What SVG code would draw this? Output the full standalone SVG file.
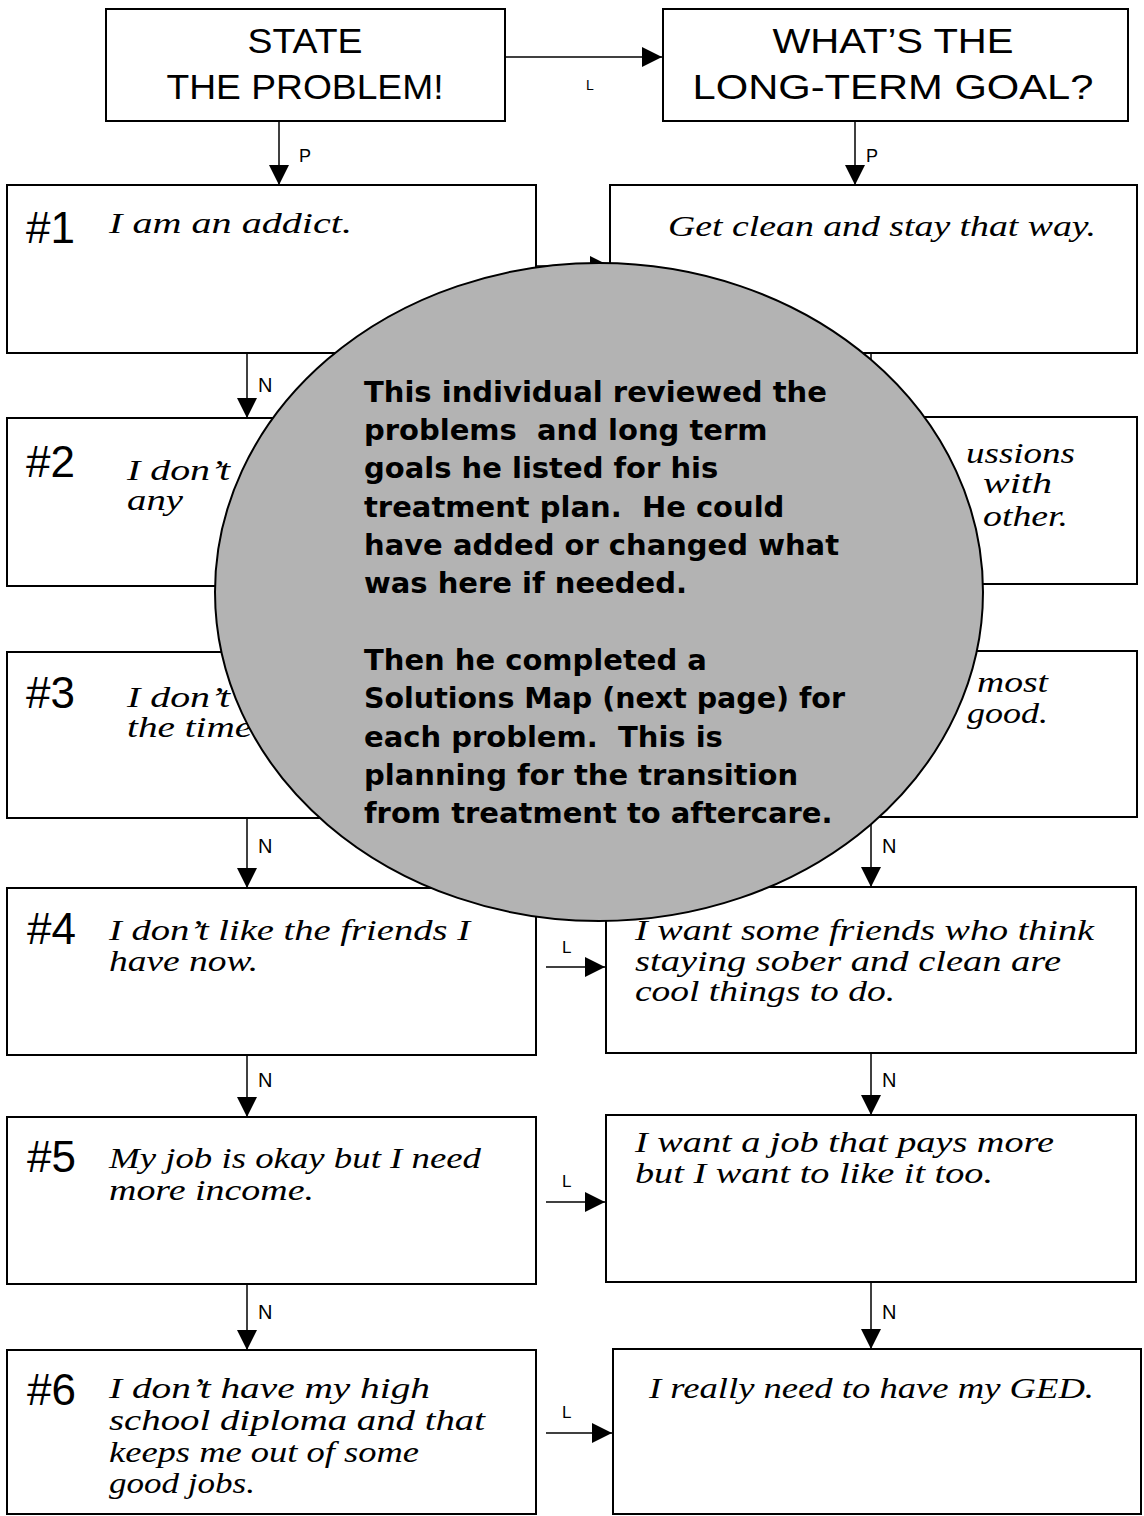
<svg xmlns="http://www.w3.org/2000/svg" width="1144" height="1516" viewBox="0 0 1144 1516">
<style>
.box{fill:#fff;stroke:#000;stroke-width:2}
.hdr{font-family:"Liberation Sans",Arial,sans-serif;font-size:35px;fill:#000;text-anchor:middle}
.num{font-family:"Liberation Sans",Arial,sans-serif;font-size:44px;fill:#000}
.hw{font-family:"Liberation Serif","Times New Roman",serif;font-style:italic;font-size:29px;fill:#000}
.lbl{font-family:"Liberation Sans",Arial,sans-serif;font-size:20px;fill:#000}
.lbp{font-family:"Liberation Sans",Arial,sans-serif;font-size:18px;fill:#000}
.lbm{font-family:"Liberation Sans",Arial,sans-serif;font-size:17px;fill:#000}
.lbs{font-family:"Liberation Sans",Arial,sans-serif;font-size:14px;fill:#000}
.con{fill:none;stroke:#000;stroke-width:1.5}
.note{fill:#b3b3b3;stroke:#000;stroke-width:2}
.nt{font-family:"DejaVu Sans",Verdana,sans-serif;font-weight:bold;font-size:29px;fill:#000}
</style>
<defs>
<marker id="ah" markerUnits="userSpaceOnUse" markerWidth="20" markerHeight="20" refX="20" refY="10" orient="auto">
<path d="M0,0 L20,10 L0,20 Z" fill="#000"/>
</marker>
</defs>
<rect width="1144" height="1516" fill="#fff"/>

<g id="hdr-problem">
<rect class="box" x="106" y="9" width="399" height="112"/>
<text class="hdr" x="305" y="53" textLength="115" lengthAdjust="spacingAndGlyphs">STATE</text>
<text class="hdr" x="305" y="99" textLength="277" lengthAdjust="spacingAndGlyphs">THE PROBLEM!</text>
</g>
<g id="hdr-goal">
<rect class="box" x="663" y="9" width="465" height="112"/>
<text class="hdr" x="893" y="53" textLength="241" lengthAdjust="spacingAndGlyphs">WHAT’S THE</text>
<text class="hdr" x="893" y="99" textLength="401" lengthAdjust="spacingAndGlyphs">LONG-TERM GOAL?</text>
</g>

<g id="p1">
<rect class="box" x="7" y="185" width="529" height="168"/>
<text class="num" x="26" y="243">#1</text>
<text class="hw" x="109" y="233" textLength="243" lengthAdjust="spacingAndGlyphs">I am an addict.</text>
</g>
<g id="g1">
<rect class="box" x="610" y="185" width="527" height="168"/>
<text class="hw" x="668" y="236" textLength="428" lengthAdjust="spacingAndGlyphs">Get clean and stay that way.</text>
</g>

<g id="p2">
<rect class="box" x="7" y="418" width="529" height="168"/>
<text class="num" x="26" y="477">#2</text>
<text class="hw" x="127" y="480" textLength="103" lengthAdjust="spacingAndGlyphs">I don’t</text>
<text class="hw" x="127" y="510" textLength="56" lengthAdjust="spacingAndGlyphs">any</text>
</g>
<g id="g2">
<rect class="box" x="610" y="417" width="527" height="167"/>
<text class="hw" x="966" y="463" textLength="109" lengthAdjust="spacingAndGlyphs">ussions</text>
<text class="hw" x="983" y="493" textLength="69" lengthAdjust="spacingAndGlyphs">with</text>
<text class="hw" x="983" y="526" textLength="85" lengthAdjust="spacingAndGlyphs">other.</text>
</g>

<g id="p3">
<rect class="box" x="7" y="652" width="529" height="166"/>
<text class="num" x="26" y="708">#3</text>
<text class="hw" x="127" y="707" textLength="103" lengthAdjust="spacingAndGlyphs">I don’t</text>
<text class="hw" x="127" y="737" textLength="135" lengthAdjust="spacingAndGlyphs">the time.</text>
</g>
<g id="g3">
<rect class="box" x="610" y="651" width="527" height="166"/>
<text class="hw" x="977" y="692" textLength="71" lengthAdjust="spacingAndGlyphs">most</text>
<text class="hw" x="967" y="723" textLength="81" lengthAdjust="spacingAndGlyphs">good.</text>
</g>

<g id="p4">
<rect class="box" x="7" y="888" width="529" height="167"/>
<text class="num" x="27" y="944">#4</text>
<text class="hw" x="109" y="940" textLength="361" lengthAdjust="spacingAndGlyphs">I don’t like the friends I</text>
<text class="hw" x="109" y="971" textLength="149" lengthAdjust="spacingAndGlyphs">have now.</text>
</g>
<g id="g4">
<rect class="box" x="606" y="887" width="530" height="166"/>
<text class="hw" x="635" y="940" textLength="459" lengthAdjust="spacingAndGlyphs">I want some friends who think</text>
<text class="hw" x="635" y="971" textLength="426" lengthAdjust="spacingAndGlyphs">staying sober and clean are</text>
<text class="hw" x="635" y="1001" textLength="260" lengthAdjust="spacingAndGlyphs">cool things to do.</text>
</g>

<g id="p5">
<rect class="box" x="7" y="1117" width="529" height="167"/>
<text class="num" x="27" y="1172">#5</text>
<text class="hw" x="109" y="1168" textLength="372" lengthAdjust="spacingAndGlyphs">My job is okay but I need</text>
<text class="hw" x="109" y="1200" textLength="205" lengthAdjust="spacingAndGlyphs">more income.</text>
</g>
<g id="g5">
<rect class="box" x="606" y="1115" width="530" height="167"/>
<text class="hw" x="635" y="1152" textLength="419" lengthAdjust="spacingAndGlyphs">I want a job that pays more</text>
<text class="hw" x="635" y="1183" textLength="358" lengthAdjust="spacingAndGlyphs">but I want to like it too.</text>
</g>

<g id="p6">
<rect class="box" x="7" y="1350" width="529" height="164"/>
<text class="num" x="27" y="1405">#6</text>
<text class="hw" x="109" y="1398" textLength="321" lengthAdjust="spacingAndGlyphs">I don’t have my high</text>
<text class="hw" x="109" y="1430" textLength="376" lengthAdjust="spacingAndGlyphs">school diploma and that</text>
<text class="hw" x="109" y="1462" textLength="310" lengthAdjust="spacingAndGlyphs">keeps me out of some</text>
<text class="hw" x="109" y="1493" textLength="146" lengthAdjust="spacingAndGlyphs">good jobs.</text>
</g>
<g id="g6">
<rect class="box" x="613" y="1349" width="528" height="165"/>
<text class="hw" x="649" y="1398" textLength="445" lengthAdjust="spacingAndGlyphs">I really need to have my GED.</text>
</g>

<g id="connectors">
<path class="con" d="M505,57 H662" marker-end="url(#ah)"/>
<text class="lbs" x="586" y="90">L</text>
<path class="con" d="M279,121 V185" marker-end="url(#ah)"/>
<text class="lbp" x="299" y="162">P</text>
<path class="con" d="M855,121 V185" marker-end="url(#ah)"/>
<text class="lbp" x="866" y="162">P</text>
<path class="con" d="M536,266 H610" marker-end="url(#ah)"/>
<path class="con" d="M247,353 V418" marker-end="url(#ah)"/>
<text class="lbl" x="258" y="392">N</text>
<path class="con" d="M871,353 V417" marker-end="url(#ah)"/>
<path class="con" d="M247,818 V888" marker-end="url(#ah)"/>
<text class="lbl" x="258" y="853">N</text>
<path class="con" d="M871,817 V887" marker-end="url(#ah)"/>
<text class="lbl" x="882" y="853">N</text>
<path class="con" d="M546,967 H605" marker-end="url(#ah)"/>
<text class="lbm" x="562" y="953">L</text>
<path class="con" d="M247,1055 V1117" marker-end="url(#ah)"/>
<text class="lbl" x="258" y="1087">N</text>
<path class="con" d="M871,1053 V1115" marker-end="url(#ah)"/>
<text class="lbl" x="882" y="1087">N</text>
<path class="con" d="M546,1202 H605" marker-end="url(#ah)"/>
<text class="lbm" x="562" y="1187">L</text>
<path class="con" d="M247,1284 V1350" marker-end="url(#ah)"/>
<text class="lbl" x="258" y="1319">N</text>
<path class="con" d="M871,1282 V1349" marker-end="url(#ah)"/>
<text class="lbl" x="882" y="1319">N</text>
<path class="con" d="M546,1433 H612" marker-end="url(#ah)"/>
<text class="lbm" x="562" y="1418">L</text>
</g>

<g id="note">
<ellipse class="note" cx="599" cy="592" rx="384" ry="329"/>
<text class="nt" x="364" y="402">This individual reviewed the</text>
<text class="nt" x="364" y="440" xml:space="preserve">problems  and long term</text>
<text class="nt" x="364" y="478">goals he listed for his</text>
<text class="nt" x="364" y="517" xml:space="preserve">treatment plan.  He could</text>
<text class="nt" x="364" y="555">have added or changed what</text>
<text class="nt" x="364" y="593">was here if needed.</text>
<text class="nt" x="364" y="670">Then he completed a</text>
<text class="nt" x="364" y="708" textLength="481" lengthAdjust="spacingAndGlyphs">Solutions Map (next page) for</text>
<text class="nt" x="364" y="747" xml:space="preserve">each problem.  This is</text>
<text class="nt" x="364" y="785">planning for the transition</text>
<text class="nt" x="364" y="823">from treatment to aftercare.</text>
</g>
</svg>
